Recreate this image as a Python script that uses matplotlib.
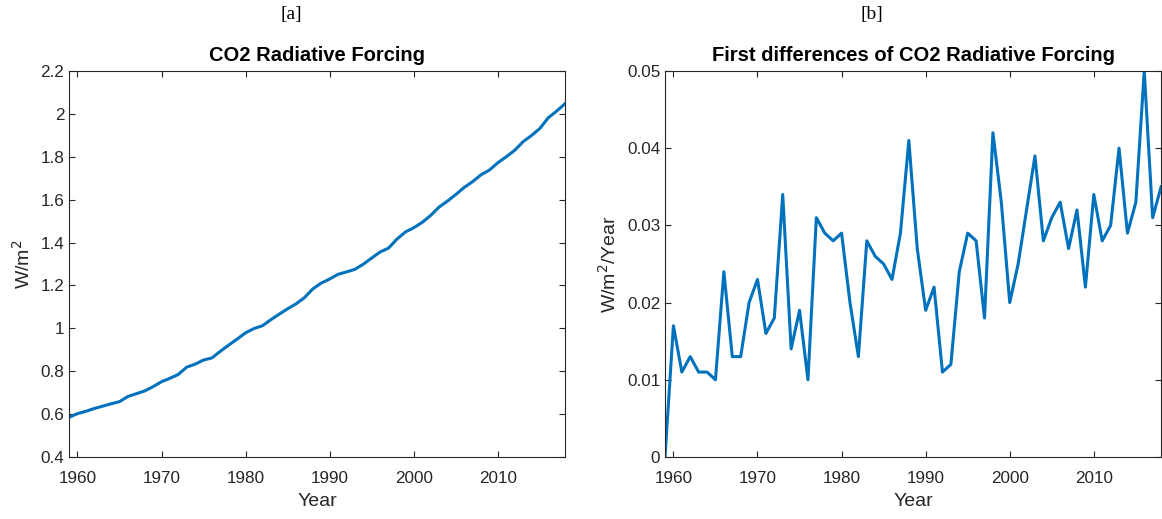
import matplotlib.pyplot as plt
from matplotlib.ticker import FuncFormatter

# Years covered by both panels
years = list(range(1959, 2019))

# CO2 radiative forcing (W/m^2) [a]
forcing = [0.585, 0.602, 0.613, 0.626, 0.637, 0.648, 0.658, 0.682, 0.695, 0.708,
           0.728, 0.751, 0.767, 0.785, 0.819, 0.833, 0.852, 0.862, 0.893, 0.922,
           0.950, 0.979, 0.999, 1.012, 1.040, 1.066, 1.091, 1.114, 1.143, 1.184,
           1.211, 1.230, 1.252, 1.263, 1.275, 1.299, 1.328, 1.356, 1.374, 1.416,
           1.449, 1.469, 1.494, 1.526, 1.565, 1.593, 1.624, 1.657, 1.684, 1.716,
           1.738, 1.772, 1.800, 1.830, 1.870, 1.899, 1.932, 1.982, 2.013, 2.048]

# First differences (W/m^2/Year) [b]
diffs = [0.0, 0.017, 0.011, 0.013, 0.011, 0.011, 0.010, 0.024, 0.013, 0.013,
         0.020, 0.023, 0.016, 0.018, 0.034, 0.014, 0.019, 0.010, 0.031, 0.029,
         0.028, 0.029, 0.020, 0.013, 0.028, 0.026, 0.025, 0.023, 0.029, 0.041,
         0.027, 0.019, 0.022, 0.011, 0.012, 0.024, 0.029, 0.028, 0.018, 0.042,
         0.033, 0.020, 0.025, 0.032, 0.039, 0.028, 0.031, 0.033, 0.027, 0.032,
         0.022, 0.034, 0.028, 0.030, 0.040, 0.029, 0.033, 0.050, 0.031, 0.035]

x_ticks = [1960, 1970, 1980, 1990, 2000, 2010]
left_yticks = [0.4, 0.6, 0.8, 1.0, 1.2, 1.4, 1.6, 1.8, 2.0, 2.2]
right_yticks = [0, 0.01, 0.02, 0.03, 0.04, 0.05]

LINE_COLOR = "#0072BD"
AXIS_COLOR = "#262626"

plt.rcParams["font.family"] = ["Liberation Sans", "DejaVu Sans"]

fig = plt.figure(figsize=(11.62, 5.19), dpi=100)
ax_a = fig.add_axes([0.0594, 0.1195, 0.4269, 0.7437])
ax_b = fig.add_axes([0.5723, 0.1195, 0.4269, 0.7437])


def style_axes(ax):
    for side in ax.spines.values():
        side.set_color(AXIS_COLOR)
        side.set_linewidth(0.8)
    ax.tick_params(direction="in", length=4, width=0.8, colors=AXIS_COLOR,
                   labelsize=12.3, top=True, right=True, labelcolor=AXIS_COLOR)
    ax.tick_params(axis="x", pad=10)
    ax.set_xlim(1959, 2018)
    ax.set_xticks(x_ticks)
    ax.set_xlabel("Year", fontsize=14, color=AXIS_COLOR, labelpad=5)
    ax.yaxis.set_major_formatter(FuncFormatter(lambda v, p: f"{v:g}"))


# Panel [a]
ax_a.plot(years, forcing, color=LINE_COLOR, linewidth=2.2)
style_axes(ax_a)
ax_a.set_ylim(0.4, 2.2)
ax_a.set_yticks(left_yticks)
ax_a.set_ylabel("W/m$^2$", fontsize=14, color=AXIS_COLOR, labelpad=5)
ax_a.set_title("CO2 Radiative Forcing", fontsize=14.5, fontweight="bold", pad=7)

# Panel [b]
ax_b.plot(years, diffs, color=LINE_COLOR, linewidth=2.2)
style_axes(ax_b)
ax_b.set_ylim(0, 0.05)
ax_b.set_yticks(right_yticks)
ax_b.set_ylabel("W/m$^2$/Year", fontsize=14, color=AXIS_COLOR, labelpad=5)
ax_b.set_title("First differences of CO2 Radiative Forcing", fontsize=14.5,
               fontweight="bold", pad=7)

# Panel letters
fig.text(291 / 1162, 1 - 15 / 519, "[a]", family="Liberation Serif", fontsize=14,
         ha="center", va="center")
fig.text(872 / 1162, 1 - 15 / 519, "[b]", family="Liberation Serif", fontsize=14,
         ha="center", va="center")

fig.savefig("out.png", dpi=100)
